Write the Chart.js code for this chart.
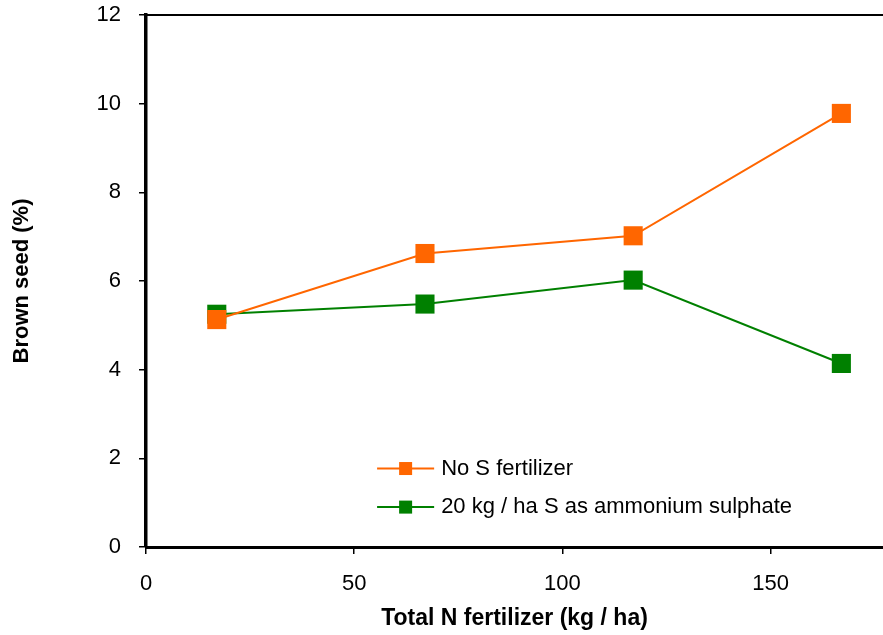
<!DOCTYPE html>
<html>
<head>
<meta charset="utf-8">
<script src="https://cdn.jsdelivr.net/npm/chart.js@4.4.1/dist/chart.umd.min.js"></script>
<style>
  html, body { margin: 0; padding: 0; background: #ffffff; }
  #wrap { width: 883px; height: 635px; position: relative; }
</style>
</head>
<body>
<div id="wrap"><canvas id="chart"></canvas></div>
<script>
// Total N fertilizer rate (kg / ha)
const nRates = [17, 67, 117, 167];
// Brown seed (%) without sulphur
const noSulphur = [5.13, 6.62, 7.02, 9.78];
// Brown seed (%) with 20 kg/ha S as ammonium sulphate
const withSulphur = [5.25, 5.48, 6.02, 4.14];
const xTicks = [0, 50, 100, 150];
const yTicks = [0, 2, 4, 6, 8, 10, 12];
const seriesNames = ['No S fertilizer', '20 kg / ha S as ammonium sulphate'];

const ORANGE = '#ff6600';
const GREEN = '#008000';
const FONT = 'Liberation Sans, Arial, sans-serif';

const toPoints = ys => nRates.map((x, i) => ({ x: x, y: ys[i] }));

// Top frame line and the in-plot legend
const framePlugin = {
  id: 'frame',
  afterDraw(chart) {
    const { ctx, chartArea } = chart;
    ctx.save();
    ctx.strokeStyle = '#000';
    ctx.lineWidth = 2;
    ctx.beginPath();
    ctx.moveTo(chartArea.left, chartArea.top);
    ctx.lineTo(chartArea.right, chartArea.top);
    ctx.stroke();

    const xs = chart.scales.x, ys = chart.scales.y;
    const lx0 = xs.getPixelForValue(55.5), lx1 = xs.getPixelForValue(69.2);
    const rows = [ys.getPixelForValue(1.77), ys.getPixelForValue(0.9)];
    chart.data.datasets.forEach((ds, i) => {
      const y = rows[i];
      ctx.strokeStyle = ds.borderColor;
      ctx.lineWidth = 2;
      ctx.beginPath();
      ctx.moveTo(lx0, y);
      ctx.lineTo(lx1, y);
      ctx.stroke();
      ctx.fillStyle = ds.backgroundColor;
      const m = 13;
      ctx.fillRect((lx0 + lx1) / 2 - m / 2, y - m / 2, m, m);
      ctx.fillStyle = '#000';
      ctx.font = '22px ' + FONT;
      ctx.textAlign = 'left';
      ctx.textBaseline = 'middle';
      ctx.fillText(ds.label, lx1 + 7, y);
    });
    ctx.restore();
  }
};

const noPad = s => { s.paddingTop = 0; s.paddingBottom = 0; s.paddingLeft = 0; s.paddingRight = 0; };

new Chart(document.getElementById('chart'), {
  type: 'line',
  data: {
    datasets: [
      {
        label: seriesNames[0],
        data: toPoints(noSulphur),
        borderColor: ORANGE,
        backgroundColor: ORANGE,
        borderWidth: 2,
        pointStyle: 'rect',
        pointRadius: 13.5,
        pointBorderWidth: 0,
        tension: 0
      },
      {
        label: seriesNames[1],
        data: toPoints(withSulphur),
        borderColor: GREEN,
        backgroundColor: GREEN,
        borderWidth: 2,
        pointStyle: 'rect',
        pointRadius: 13.5,
        pointBorderWidth: 0,
        tension: 0
      }
    ]
  },
  options: {
    responsive: true,
    maintainAspectRatio: false,
    animation: false,
    layout: { autoPadding: false, padding: { top: 15, right: 0, left: 0, bottom: 0 } },
    plugins: {
      legend: { display: false },
      tooltip: { enabled: false }
    },
    scales: {
      x: {
        type: 'linear',
        min: 0,
        max: 177,
        afterBuildTicks: s => { s.ticks = xTicks.map(v => ({ value: v })); },
        afterFit: s => { s.height = 88; noPad(s); },
        ticks: { color: '#000', font: { family: FONT, size: 22 }, padding: 17, maxRotation: 0 },
        grid: { display: true, drawOnChartArea: false, drawTicks: true, tickLength: 7, color: '#000', lineWidth: 1.5 },
        border: { display: true, color: '#000', width: 3 },
        title: {
          display: true,
          text: 'Total N fertilizer (kg / ha)',
          color: '#000',
          font: { family: FONT, size: 23, weight: 'bold' },
          padding: { top: 0, bottom: 3 }
        }
      },
      y: {
        min: 0,
        max: 12,
        afterBuildTicks: s => { s.ticks = yTicks.map(v => ({ value: v })); },
        afterFit: s => { s.width = 146; noPad(s); },
        ticks: { color: '#000', font: { family: FONT, size: 22 }, padding: 18 },
        grid: { display: true, drawOnChartArea: false, drawTicks: true, tickLength: 7, color: '#000', lineWidth: 1.5 },
        border: { display: true, color: '#000', width: 3.5 },
        title: {
          display: true,
          text: 'Brown seed (%)',
          color: '#000',
          font: { family: FONT, size: 22, weight: 'bold' },
          padding: { top: 9, bottom: 0 }
        }
      }
    }
  },
  plugins: [framePlugin]
});
</script>
</body>
</html>
